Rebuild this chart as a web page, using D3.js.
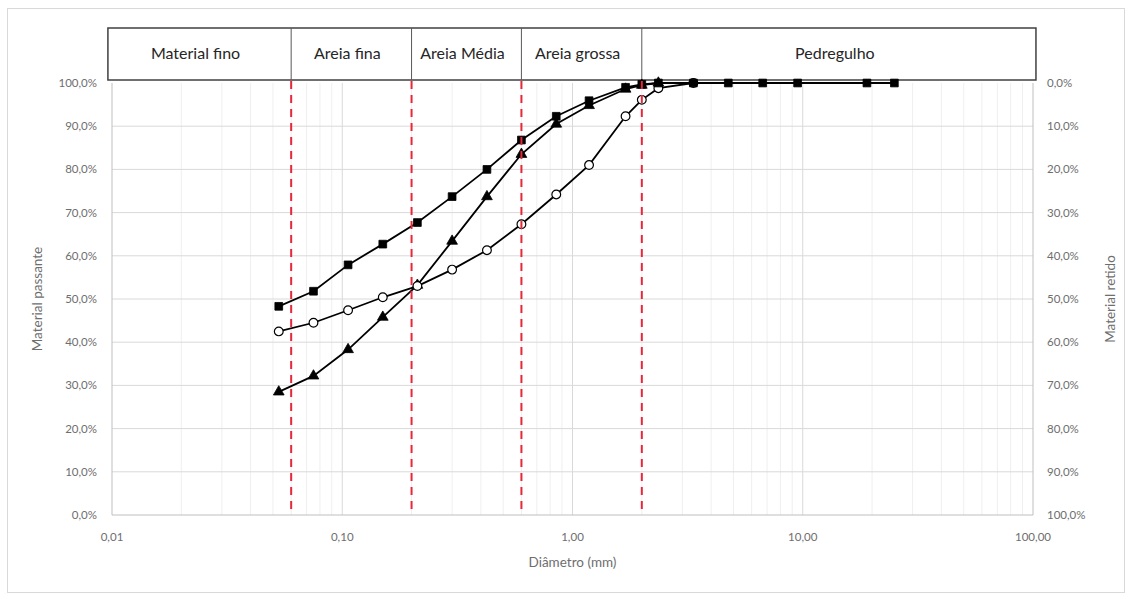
<!DOCTYPE html>
<html lang="pt">
<head>
    <meta charset="UTF-8">
    <title>Curva granulométrica</title>
    <script src="https://d3js.org/d3.v7.min.js"></script>
    <style>
        body {
            margin: 0;
            background-color: white;
        }
        svg {
            display: block;
            font-family: "Lato", "Open Sans", sans-serif;
        }
    </style>
</head>
<body>

<svg width="1132" height="599"></svg>
<script>
    // peneiras (mm) e porcentagem passante de cada amostra
    const diameters = [0.053, 0.075, 0.106, 0.15, 0.212, 0.3, 0.425, 0.6, 0.85, 1.18, 1.7, 2.0, 2.36, 3.35, 4.75, 6.7, 9.5, 19, 25];
    const passSquares = [48.3, 51.8, 57.9, 62.7, 67.7, 73.7, 80.0, 86.8, 92.3, 95.9, 99.0, 99.7, 100, 100, 100, 100, 100, 100, 100];
    const passCircles = [42.5, 44.5, 47.4, 50.4, 53.0, 56.8, 61.3, 67.3, 74.2, 81.0, 92.3, 96.1, 98.8, 100];
    const passTriangles = [28.5, 32.2, 38.3, 45.8, 53.2, 63.4, 73.7, 83.5, 90.5, 94.8, 98.6, 99.5, 100];

    // limites das frações e nomes das faixas
    const limits = [0.06, 0.2, 0.6, 2.0];
    const bandNames = ["Material fino", "Areia fina", "Areia Média", "Areia grossa", "Pedregulho"];
    const xTicks = [0.01, 0.1, 1, 10, 100];
    const yTicks = [0, 10, 20, 30, 40, 50, 60, 70, 80, 90, 100];

    const locale = d3.formatLocale({decimal: ",", thousands: ".", grouping: [3], currency: ["R$", ""]});
    const fmtX = locale.format(".2f");
    const fmtY = d => locale.format(".1f")(d) + "%";

    const svg = d3.select("svg");

    const x = d3.scaleLog().domain([0.01, 100]).range([112, 1033]);
    const y = d3.scaleLinear().domain([0, 100]).range([515, 83]);

    const tickColor = "#6e6e6e";

    // moldura externa
    svg.append("rect")
        .attr("x", 7.5).attr("y", 8.5)
        .attr("width", 1117).attr("height", 584)
        .attr("fill", "white")
        .attr("stroke", "#d9d9d9");

    // grade vertical (menor e maior)
    const minor = [];
    for (let e = -2; e < 2; e++) {
        for (let m = 2; m <= 9; m++) minor.push(m * Math.pow(10, e));
    }
    svg.append("g")
        .selectAll("line")
        .data(minor)
        .join("line")
        .attr("x1", d => x(d)).attr("x2", d => x(d))
        .attr("y1", y(100)).attr("y2", y(0))
        .attr("stroke", "#efefef");

    svg.append("g")
        .selectAll("line")
        .data(xTicks.slice(1, -1))
        .join("line")
        .attr("x1", d => x(d)).attr("x2", d => x(d))
        .attr("y1", y(100)).attr("y2", y(0))
        .attr("stroke", "#d9d9d9");

    svg.append("g")
        .selectAll("line")
        .data(yTicks.slice(1, -1))
        .join("line")
        .attr("x1", x(0.01)).attr("x2", x(100))
        .attr("y1", d => y(d)).attr("y2", d => y(d))
        .attr("stroke", "#d9d9d9");

    // eixos
    svg.append("path")
        .attr("d", `M${x(0.01)},${y(100)}V${y(0)}H${x(100)}V${y(100)}`)
        .attr("fill", "none")
        .attr("stroke", "#bfbfbf");

    svg.append("g")
        .attr("font-size", 11.5)
        .attr("fill", tickColor)
        .attr("text-anchor", "middle")
        .selectAll("text")
        .data(xTicks)
        .join("text")
        .attr("x", d => x(d))
        .attr("y", 541)
        .text(d => fmtX(d));

    svg.append("g")
        .attr("font-size", 11.5)
        .attr("fill", tickColor)
        .attr("text-anchor", "end")
        .selectAll("text")
        .data(yTicks)
        .join("text")
        .attr("x", 97)
        .attr("y", d => y(d) + 4)
        .text(d => fmtY(d));

    svg.append("g")
        .attr("font-size", 11.5)
        .attr("fill", tickColor)
        .selectAll("text")
        .data(yTicks)
        .join("text")
        .attr("x", 1047)
        .attr("y", d => y(d) + 4)
        .text(d => fmtY(100 - d));

    svg.append("text")
        .attr("transform", `translate(${42},${y(50)}) rotate(-90)`)
        .attr("text-anchor", "middle")
        .attr("font-size", 13.5)
        .attr("fill", tickColor)
        .text("Material passante");

    svg.append("text")
        .attr("transform", `translate(${1115},${y(50)}) rotate(-90)`)
        .attr("text-anchor", "middle")
        .attr("font-size", 13.5)
        .attr("fill", tickColor)
        .text("Material retido");

    svg.append("text")
        .attr("x", x(1))
        .attr("y", 567)
        .attr("text-anchor", "middle")
        .attr("font-size", 13.5)
        .attr("fill", tickColor)
        .text("Diâmetro (mm)");

    // faixas de classificação no topo
    const edges = [0.0096, ...limits, 103];
    const header = svg.append("g");
    header.append("rect")
        .attr("x", x(edges[0])).attr("y", 28)
        .attr("width", x(edges[edges.length - 1]) - x(edges[0]))
        .attr("height", 52)
        .attr("fill", "white")
        .attr("stroke", "#404040")
        .attr("stroke-width", 1.5);

    header.selectAll("line")
        .data(limits)
        .join("line")
        .attr("x1", d => x(d)).attr("x2", d => x(d))
        .attr("y1", 28).attr("y2", 80)
        .attr("stroke", "#595959");

    header.selectAll("text")
        .data(bandNames)
        .join("text")
        .attr("x", (d, i) => (x(edges[i]) + x(edges[i + 1])) / 2 - 4)
        .attr("y", 59)
        .attr("text-anchor", "middle")
        .attr("font-size", 16)
        .attr("fill", "#262626")
        .text(d => d);

    // curvas
    const line = d3.line()
        .x(d => x(d[0]))
        .y(d => y(d[1]));

    const series = [
        {values: passTriangles, shape: "triangle"},
        {values: passCircles, shape: "circle"},
        {values: passSquares, shape: "square"}
    ];

    const symbolFor = {
        circle: d3.symbol().type(d3.symbolCircle).size(60),
        triangle: d3.symbol().type(d3.symbolTriangle).size(50),
        square: d3.symbol().type(d3.symbolSquare).size(60)
    };

    series.forEach(s => {
        const pts = s.values.map((v, i) => [diameters[i], v]);
        const g = svg.append("g");
        g.append("path")
            .datum(pts)
            .attr("d", line)
            .attr("fill", "none")
            .attr("stroke", "black")
            .attr("stroke-width", 1.8);
        g.selectAll("path.m")
            .data(pts)
            .join("path")
            .attr("class", "m")
            .attr("transform", d => `translate(${x(d[0])},${y(d[1])})`)
            .attr("d", symbolFor[s.shape])
            .attr("fill", s.shape === "circle" ? "white" : "black")
            .attr("stroke", "black")
            .attr("stroke-width", s.shape === "circle" ? 1.2 : 0.8);
    });

    // limites das frações (tracejado vermelho)
    svg.append("g")
        .selectAll("line")
        .data(limits)
        .join("line")
        .attr("x1", d => x(d)).attr("x2", d => x(d))
        .attr("y1", 81).attr("y2", y(0))
        .attr("stroke", "#e8273a")
        .attr("stroke-width", 2)
        .attr("stroke-dasharray", "8,6");
</script>
</body>
</html>
